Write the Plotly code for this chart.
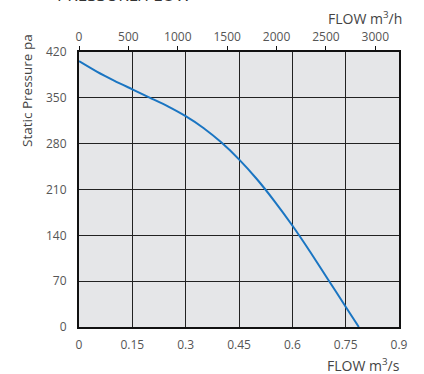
import plotly.graph_objects as go

flow_m3s = [0, 0.05, 0.1, 0.15, 0.2, 0.25, 0.3, 0.35, 0.4, 0.45, 0.5, 0.55, 0.6, 0.65, 0.7, 0.75, 0.787]
pressure_pa = [406, 390, 376, 363, 350, 337, 322, 304, 282, 256, 226, 192, 155, 115, 73, 31, 0]

x_ticks = [0, 0.15, 0.3, 0.45, 0.6, 0.75, 0.9]
x_tick_labels = ["0", "0.15", "0.3", "0.45", "0.6", "0.75", "0.9"]
y_ticks = [0, 70, 140, 210, 280, 350, 420]
top_ticks = [0, 500, 1000, 1500, 2000, 2500, 3000]

W, H = 424, 374
L, R, T, B = 79, 25, 52, 47
pw, ph = W - L - R, H - T - B

def px(x):
    return (x - L) / pw

def py(y):
    return (H - B - y) / ph

font = "Open Sans"
tc = "#555555"

fig = go.Figure()
fig.add_trace(go.Scatter(x=flow_m3s, y=pressure_pa, mode="lines",
                         line=dict(color="#1a75c2", width=2, shape="spline", smoothing=0.6),
                         showlegend=False, hoverinfo="skip"))
fig.add_trace(go.Scatter(x=[0, 3240], y=[None, None], xaxis="x2", showlegend=False, hoverinfo="skip"))

fig.update_layout(
    width=W, height=H,
    margin=dict(l=L, r=R, t=T, b=B),
    paper_bgcolor="white", plot_bgcolor="#e5e6e8",
    font=dict(family=font, size=12, color=tc),
    xaxis=dict(range=[0, 0.9], tickvals=x_ticks, ticktext=x_tick_labels,
               showgrid=True, gridcolor="#222222", gridwidth=1.4,
               showline=True, linecolor="#111111", linewidth=2, mirror=False,
               ticks="", zeroline=False, ticklabelstandoff=6,
               tickfont=dict(size=12, color=tc)),
    yaxis=dict(range=[0, 420], tickvals=y_ticks,
               showgrid=True, gridcolor="#222222", gridwidth=1.4,
               showline=True, linecolor="#111111", linewidth=2, mirror=True,
               ticks="", zeroline=False, ticklabelstandoff=8,
               tickfont=dict(size=12, color=tc)),
    xaxis2=dict(range=[0, 3240], overlaying="x", side="top", tickvals=top_ticks,
                showgrid=False, showline=True, linecolor="#111111", linewidth=2,
                ticks="outside", ticklen=4, tickwidth=1, tickcolor="#111111",
                zeroline=False, tickfont=dict(size=12, color=tc)),
    annotations=[
        dict(text="PRESSURE/FLOW", xref="paper", yref="paper", x=px(55), y=py(8.5),
             xanchor="left", yanchor="bottom", showarrow=False,
             font=dict(size=17, color="#333333", family=font)),
        dict(text="FLOW m<sup>3</sup>/h", xref="paper", yref="paper", x=px(404), y=py(18),
             xanchor="right", yanchor="middle", showarrow=False,
             font=dict(size=14, color="#444444", family=font)),
        dict(text="FLOW m<sup>3</sup>/s", xref="paper", yref="paper", x=px(402), y=py(365),
             xanchor="right", yanchor="middle", showarrow=False,
             font=dict(size=14, color="#444444", family=font)),
        dict(text="Static Pressure pa", xref="paper", yref="paper", x=px(27), y=py(91),
             xanchor="center", yanchor="middle", textangle=-90, showarrow=False,
             font=dict(size=13.5, color="#444444", family=font)),
    ],
)

fig.write_html("out.html", config={"displayModeBar": False},
               post_script="document.body.style.margin='0';")
